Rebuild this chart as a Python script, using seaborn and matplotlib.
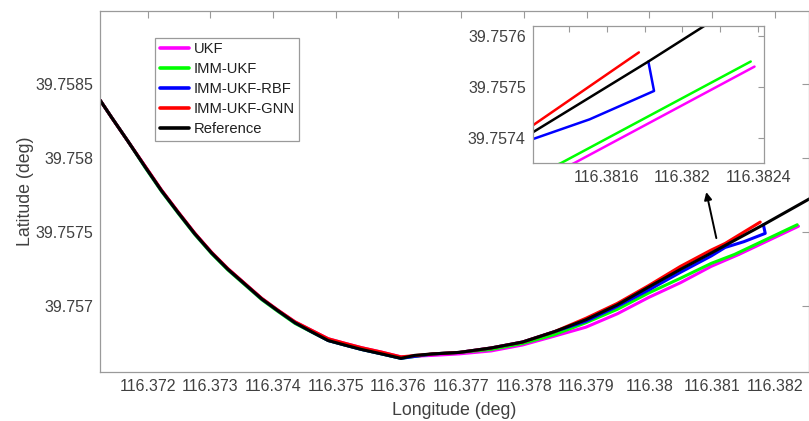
import numpy as np
import pandas as pd
import matplotlib
matplotlib.use("Agg")
import matplotlib.pyplot as plt
import seaborn as sns

# ---------------- data ----------------
methods = ["UKF", "IMM-UKF", "IMM-UKF-RBF", "IMM-UKF-GNN", "Reference"]
colors = ["#ff00ff", "#00ff00", "#0000ff", "#ff0000", "#000000"]

# longitudes of the descending branch (shared by all tracks)
lon_desc = [116.37124, 116.37143, 116.37169, 116.37196, 116.37222, 116.37249, 116.37275,
            116.37302, 116.37328, 116.37355, 116.37382, 116.37408, 116.37435, 116.37461,
            116.37488, 116.37514, 116.37541, 116.37573, 116.37604]

# Reference (ground truth)
lat_ref_desc = [39.75839, 39.75827, 39.75811, 39.75794, 39.75778, 39.75763, 39.75749,
                39.75736, 39.75725, 39.75715, 39.75705, 39.75697, 39.75689, 39.75683,
                39.75677, 39.75674, 39.75671, 39.75668, 39.75665]
lon_ref_asc = [116.37626, 116.37655, 116.37697, 116.37748, 116.37798, 116.37849, 116.37899,
               116.37949, 116.37999, 116.38050, 116.38099, 116.38182, 116.38262]
lat_ref_asc = [39.75667, 39.75668, 39.75669, 39.75672, 39.75676, 39.75683, 39.75691,
               39.75701, 39.75713, 39.75725, 39.75736, 39.75755, 39.75774]

# UKF
lat_ukf_desc = [39.75839, 39.75827, 39.75811, 39.757944, 39.757784, 39.757634, 39.757494,
                39.757364, 39.757254, 39.757154, 39.757054, 39.756974, 39.756896, 39.756840,
                39.756782, 39.756752, 39.756722, 39.756692, 39.75666]
lon_ukf_asc = [116.37655, 116.37697, 116.37748, 116.37798, 116.37849, 116.37899, 116.37949,
               116.37999, 116.38050, 116.38099, 116.38143, 116.38238]
lat_ukf_asc = [39.75667, 39.75668, 39.75670, 39.75674, 39.75680, 39.75686, 39.75695,
               39.75706, 39.75716, 39.75727, 39.75735, 39.75754]

# IMM-UKF
lat_imm_desc = [39.75839, 39.75827, 39.75811, 39.757935, 39.757775, 39.757625, 39.757485,
                39.757355, 39.757245, 39.757145, 39.757045, 39.756965, 39.756885, 39.756828,
                39.75677, 39.75674, 39.75671, 39.75668, 39.75665]
lon_imm_asc = [116.37655, 116.37697, 116.37748, 116.37798, 116.37849, 116.37899, 116.37949,
               116.37999, 116.38050, 116.38099, 116.38136, 116.38236]
lat_imm_asc = [39.75668, 39.75669, 39.75671, 39.75675, 39.75681, 39.75689, 39.75698,
               39.75709, 39.75719, 39.75729, 39.75735, 39.75755]

# IMM-UKF-RBF
lat_rbf_desc = [39.75839, 39.75827, 39.75811, 39.75794, 39.75778, 39.75763, 39.75749,
                39.75736, 39.75725, 39.75715, 39.75705, 39.75697, 39.75689, 39.75683,
                39.75677, 39.75674, 39.75671, 39.75668, 39.75665]
lon_rbf_asc = [116.37655, 116.37697, 116.37748, 116.37798, 116.37849, 116.37899, 116.37949,
               116.37999, 116.38050, 116.38099, 116.38121, 116.38151, 116.38185, 116.38182]
lat_rbf_asc = [39.75668, 39.75669, 39.75672, 39.75676, 39.75683, 39.75690, 39.75700,
               39.75711, 39.75723, 39.75734, 39.757397, 39.757436, 39.757492, 39.75755]

# IMM-UKF-GNN
lat_gnn_desc = [39.75839, 39.75827, 39.75811, 39.757944, 39.757784, 39.757634, 39.757494,
                39.757364, 39.757254, 39.757154, 39.757054, 39.756974, 39.756896, 39.756840,
                39.756782, 39.756752, 39.756722, 39.756692, 39.75666]
lon_gnn_asc = [116.37655, 116.37697, 116.37748, 116.37798, 116.37849, 116.37899, 116.37949,
               116.37999, 116.38050, 116.38099, 116.38121, 116.38177]
lat_gnn_asc = [39.75668, 39.75669, 39.75672, 39.75676, 39.75683, 39.75692, 39.75702,
               39.75714, 39.75727, 39.75738, 39.757424, 39.757568]

main_xticks = [116.372, 116.373, 116.374, 116.375, 116.376, 116.377, 116.378,
               116.379, 116.380, 116.381, 116.382]
main_xticklabels = ["116.372", "116.373", "116.374", "116.375", "116.376", "116.377",
                    "116.378", "116.379", "116.38", "116.381", "116.382"]
main_yticks = [39.7570, 39.7575, 39.7580, 39.7585]
main_yticklabels = ["39.757", "39.7575", "39.758", "39.7585"]

inset_xticks = [116.3814, 116.3816, 116.3818, 116.3820, 116.3822, 116.3824]
inset_xticklabels = ["", "116.3816", "", "116.382", "", "116.3824"]
inset_yticks = [39.7574, 39.7575, 39.7576]
inset_yticklabels = ["39.7574", "39.7575", "39.7576"]

# ---------------- build long table ----------------
tracks = {
    "UKF": (lon_desc + lon_ukf_asc, lat_ukf_desc + lat_ukf_asc),
    "IMM-UKF": (lon_desc + lon_imm_asc, lat_imm_desc + lat_imm_asc),
    "IMM-UKF-RBF": (lon_desc + lon_rbf_asc, lat_rbf_desc + lat_rbf_asc),
    "IMM-UKF-GNN": (lon_desc + lon_gnn_asc, lat_gnn_desc + lat_gnn_asc),
    "Reference": (lon_desc + lon_ref_asc, lat_ref_desc + lat_ref_asc),
}
frames = []
for name in methods:
    lo, la = tracks[name]
    frames.append(pd.DataFrame({"lon": lo, "lat": la, "method": name}))
df = pd.concat(frames, ignore_index=True)
palette = dict(zip(methods, colors))

# ---------------- style ----------------
sns.set_style("white")
plt.rcParams["font.family"] = ["Liberation Sans", "DejaVu Sans"]
text_c = "#404040"
spine_c = "#9a9a9a"

fig = plt.figure(figsize=(8.09, 4.21), dpi=100)
W, H = 809, 421
ax = fig.add_axes([100 / W, 1 - 371.7 / H, 708.5 / W, (371.7 - 11) / H])

sns.lineplot(data=df, x="lon", y="lat", hue="method", hue_order=methods,
             palette=palette, sort=False, estimator=None, units="method",
             linewidth=2.2, ax=ax, legend=True)

ax.set_xlim(116.37124, 116.38254)
ax.set_ylim(39.75656, 39.75899)
ax.set_xticks(main_xticks)
ax.set_xticklabels(main_xticklabels)
ax.set_yticks(main_yticks)
ax.set_yticklabels(main_yticklabels)
ax.tick_params(direction="in", length=5, width=0.8, color=spine_c,
               labelcolor=text_c, labelsize=11.5, top=True, right=True, pad=5)
for s in ax.spines.values():
    s.set_color(spine_c)
    s.set_linewidth(0.9)
ax.set_xlabel("Longitude (deg)", fontsize=12.8, color=text_c)
ax.set_ylabel("Latitude (deg)", fontsize=12.8, color=text_c)
ax.xaxis.set_label_coords(0.5, -0.083)
ax.yaxis.set_label_coords(-0.093, 0.5)

handles, labels = ax.get_legend_handles_labels()
for h in handles:
    h.set_linewidth(2.6)
leg = ax.legend(handles, labels, loc="upper left",
                bbox_to_anchor=(155 / W, 1 - 37.7 / H), bbox_transform=fig.transFigure,
                fontsize=10.6, handlelength=2.0, handletextpad=0.3,
                labelspacing=0.4, borderpad=0.32, borderaxespad=0.0,
                frameon=True, fancybox=False, framealpha=1.0)
leg.get_frame().set_edgecolor(spine_c)
leg.get_frame().set_linewidth(0.9)
for t in leg.get_texts():
    t.set_color("#202020")

# arrow pointing to the inset
ax.annotate("", xy=(116.38091, 39.75777), xytext=(116.38107, 39.75746),
            arrowprops=dict(arrowstyle="-|>", color="black", lw=1.4,
                            mutation_scale=11, shrinkA=0, shrinkB=0))

# ---------------- inset ----------------
axi = fig.add_axes([532.7 / W, 1 - 163 / H, (764 - 532.7) / W, (163 - 26) / H])
sns.lineplot(data=df, x="lon", y="lat", hue="method", hue_order=methods,
             palette=palette, sort=False, estimator=None, units="method",
             linewidth=1.8, ax=axi, legend=False)
axi.set_xlim(116.38121, 116.38243)
axi.set_ylim(39.75735, 39.75762)
axi.set_xticks(inset_xticks)
axi.set_xticklabels(inset_xticklabels)
axi.set_yticks(inset_yticks)
axi.set_yticklabels(inset_yticklabels)
axi.tick_params(direction="in", length=4, width=0.8, color=spine_c,
                labelcolor=text_c, labelsize=11.5, top=True, right=True, pad=5)
for s in axi.spines.values():
    s.set_color(spine_c)
    s.set_linewidth(0.9)
axi.set_xlabel("")
axi.set_ylabel("")
axi.set_facecolor("white")

fig.savefig("out.png", dpi=100)
